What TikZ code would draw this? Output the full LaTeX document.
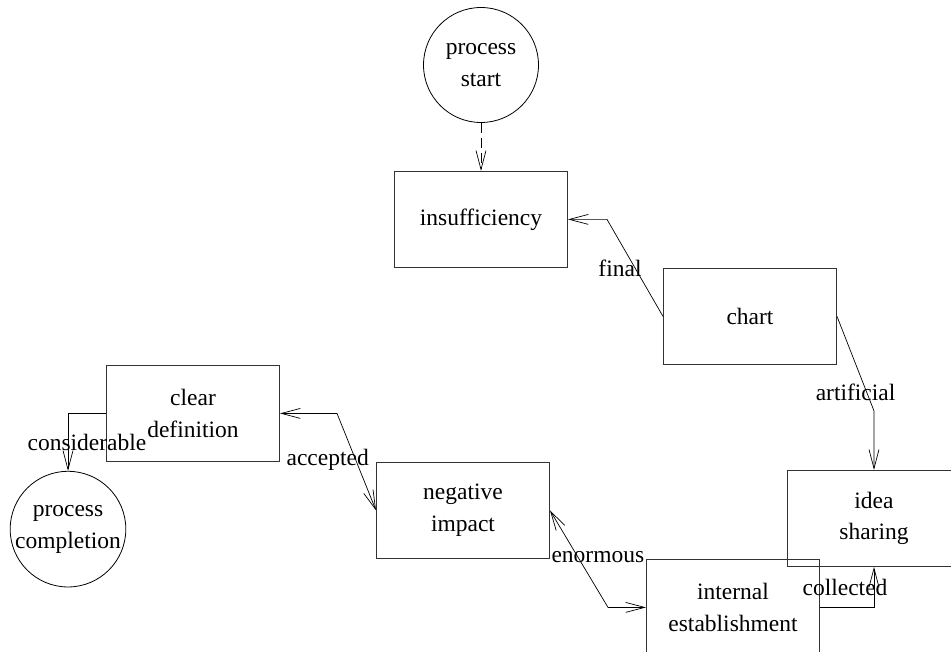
\documentclass[tikz,border=0pt]{standalone}
\usepackage{fontspec}
\setmainfont{Liberation Serif}
\usepackage{tikz}
\usetikzlibrary{arrows.meta,positioning}

\begin{document}
\begin{tikzpicture}[
  font=\fontsize{23.5pt}{31.7pt}\selectfont,
  procbox/.style={draw=black!80, line width=1pt, align=center, minimum width=173pt, minimum height=96pt, inner sep=0pt},
  terminal/.style={draw, circle, align=center, minimum size=115pt, inner sep=0pt, line width=0.8pt},
  arrow/.style={-{Straight Barb[length=19pt, width=10pt]}, line width=0.7pt},
  twoway/.style={{Straight Barb[length=19pt, width=10pt]}-{Straight Barb[length=19pt, width=10pt]}, line width=0.7pt},
  dasharrow/.style={arrow, dash pattern=on 10pt off 5pt},
  edgelabel/.style={inner sep=0pt}
]
\useasboundingbox (0,0) rectangle (951pt,-652pt);
\node[terminal] (start) at (481pt,-65pt) {process\\start};
\node[procbox, below=48pt of start] (insuff) {insufficiency};
\node[procbox, below right=0pt and 95pt of insuff] (chart) {chart};
\node[procbox, below left=0pt and 383pt of chart] (cleardef) {clear\\definition};
\node[procbox, below right=0pt and 96pt of cleardef] (negimpact) {negative\\impact};
\node[procbox, below right=0pt and 96pt of negimpact] (intest) {internal\\establishment};
\node[procbox, below=105pt of chart, xshift=124pt] (ideashare) {idea\\sharing};
\node[terminal, below=9pt of cleardef.south west, xshift=-38pt] (finish) {process\\completion};
\draw[dasharrow] (start) -- (insuff);
\draw[arrow] (chart.west) -- node[edgelabel, pos=.5, xshift=-15pt] {final} ([xshift=39pt]insuff.east) -- (insuff.east);
\draw[arrow] (chart.east) -- node[edgelabel, pos=.8, xshift=-11pt] {artificial} ([yshift=59pt]ideashare.north) -- (ideashare.north);
\draw[arrow] (cleardef.west) -| node[edgelabel, pos=.75, xshift=19pt] {considerable} (finish.north);
\draw[twoway] (negimpact.west) -- node[edgelabel, pos=.52, xshift=-28pt] {accepted} ([xshift=57pt]cleardef.east) -- (cleardef.east);
\draw[twoway] (negimpact.east) -- node[edgelabel, pos=.48, xshift=20pt] {enormous} ([xshift=-38pt]intest.west) -- (intest.west);
\draw[arrow] (intest.east) -| node[edgelabel, pos=.75, xshift=-29pt] {collected} (ideashare.south);
\end{tikzpicture}
\end{document}
